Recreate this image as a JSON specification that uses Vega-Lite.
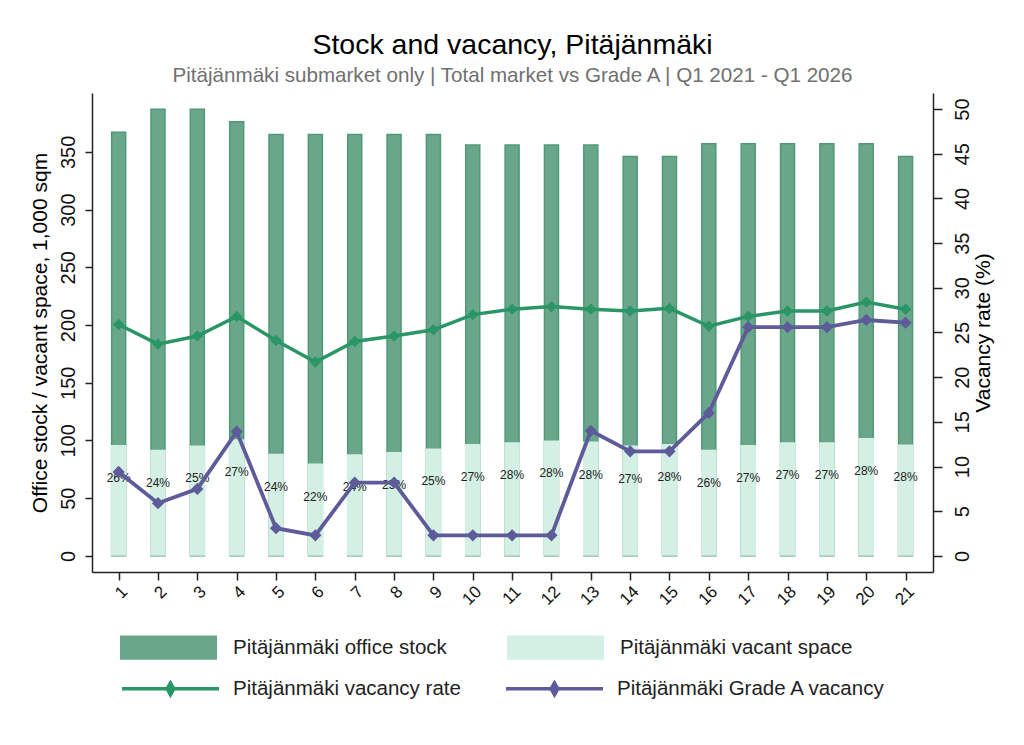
{
  "$schema": "https://vega.github.io/schema/vega-lite/v6.json",
  "width": 841,
  "height": 479,
  "autosize": {"type": "none"},
  "padding": {"left": 92, "top": 93, "right": 91, "bottom": 173},
  "background": "white",
  "title": {
    "text": "Stock and vacancy, Pitäjänmäki",
    "subtitle": "Pitäjänmäki submarket only | Total market vs Grade A | Q1 2021 - Q1 2026",
    "font": "Liberation Sans",
    "fontSize": 28.5,
    "fontWeight": "normal",
    "color": "#000000",
    "subtitleFont": "Liberation Sans",
    "subtitleFontSize": 20.6,
    "subtitleColor": "#707070",
    "subtitlePadding": 7,
    "anchor": "middle",
    "offset": 6
  },
  "data": {
    "values": [
      {"q": 1, "stock": 367, "vacant": 96, "rate": 25.9, "gradeA": 9.4, "label": "26%"},
      {"q": 2, "stock": 387, "vacant": 92, "rate": 23.7, "gradeA": 5.9, "label": "24%"},
      {"q": 3, "stock": 387, "vacant": 95.6, "rate": 24.6, "gradeA": 7.5, "label": "25%"},
      {"q": 4, "stock": 376, "vacant": 101, "rate": 26.8, "gradeA": 13.9, "label": "27%"},
      {"q": 5, "stock": 365, "vacant": 88.4, "rate": 24.1, "gradeA": 3.1, "label": "24%"},
      {"q": 6, "stock": 365, "vacant": 80, "rate": 21.7, "gradeA": 2.3, "label": "22%"},
      {"q": 7, "stock": 365, "vacant": 88, "rate": 24.0, "gradeA": 8.2, "label": "24%"},
      {"q": 8, "stock": 365, "vacant": 90, "rate": 24.6, "gradeA": 8.2, "label": "25%"},
      {"q": 9, "stock": 365, "vacant": 93, "rate": 25.3, "gradeA": 2.3, "label": "25%"},
      {"q": 10, "stock": 356, "vacant": 97, "rate": 27.0, "gradeA": 2.3, "label": "27%"},
      {"q": 11, "stock": 356, "vacant": 98.5, "rate": 27.6, "gradeA": 2.3, "label": "28%"},
      {"q": 12, "stock": 356, "vacant": 100, "rate": 27.9, "gradeA": 2.3, "label": "28%"},
      {"q": 13, "stock": 356, "vacant": 99, "rate": 27.6, "gradeA": 14.0, "label": "28%"},
      {"q": 14, "stock": 346, "vacant": 95.5, "rate": 27.4, "gradeA": 11.7, "label": "27%"},
      {"q": 15, "stock": 346, "vacant": 97, "rate": 27.7, "gradeA": 11.7, "label": "28%"},
      {"q": 16, "stock": 357, "vacant": 92, "rate": 25.7, "gradeA": 16.0, "label": "26%"},
      {"q": 17, "stock": 357, "vacant": 96, "rate": 26.8, "gradeA": 25.6, "label": "27%"},
      {"q": 18, "stock": 357, "vacant": 98.5, "rate": 27.4, "gradeA": 25.6, "label": "27%"},
      {"q": 19, "stock": 357, "vacant": 98.5, "rate": 27.4, "gradeA": 25.6, "label": "27%"},
      {"q": 20, "stock": 357, "vacant": 102, "rate": 28.4, "gradeA": 26.4, "label": "28%"},
      {"q": 21, "stock": 346, "vacant": 96.5, "rate": 27.6, "gradeA": 26.1, "label": "28%"}
    ]
  },
  "encoding": {
    "x": {
      "field": "q",
      "type": "quantitative",
      "scale": {"domain": [0.45, 21.57], "nice": false, "zero": false},
      "axis": {
        "values": [1, 2, 3, 4, 5, 6, 7, 8, 9, 10, 11, 12, 13, 14, 15, 16, 17, 18, 19, 20, 21],
        "title": null,
        "labelAngle": -45,
        "labelFontSize": 17,
        "tickSize": 8,
        "labelPadding": 3
      }
    }
  },
  "layer": [
    {
      "encoding": {
        "y": {
          "type": "quantitative",
          "scale": {"domain": [-14, 401], "nice": false, "zero": false},
          "axis": {
            "orient": "left",
            "values": [0, 50, 100, 150, 200, 250, 300, 350],
            "title": "Office stock / vacant space, 1,000 sqm",
            "labelAngle": -90,
            "labelFontSize": 20,
            "labelPadding": 7,
            "tickSize": 7,
            "titleFontSize": 21,
            "titlePadding": 8
          }
        }
      },
      "layer": [
        {
          "mark": {"type": "bar", "size": 14, "stroke": "#4e9a77", "strokeWidth": 1.5, "opacity": 1},
          "encoding": {
            "y": {"field": "stock", "type": "quantitative"},
            "fill": {
              "datum": "Pitäjänmäki office stock",
              "scale": {
                "domain": ["Pitäjänmäki office stock", "Pitäjänmäki vacant space"],
                "range": ["#6aa78a", "#d4efe4"]
              },
              "legend": {
                "orient": "none",
                "legendX": 28,
                "legendY": 506,
                "direction": "horizontal",
                "title": null,
                "labelFont": "Liberation Sans",
                "labelFontSize": 20.5,
                "labelColor": "#222222",
                "labelLimit": 400,
                "labelOffset": 16,
                "symbolType": "M-1,-0.25H1V0.25H-1Z",
                "symbolSize": 9409,
                "symbolStrokeWidth": 0,
                "symbolOpacity": 1,
                "columnPadding": 60
              }
            }
          }
        },
        {
          "mark": {"type": "bar", "size": 15.6, "opacity": 1},
          "encoding": {
            "y": {"field": "vacant", "type": "quantitative"},
            "fill": {"datum": "Pitäjänmäki vacant space"}
          }
        },
        {
          "mark": {"type": "text", "font": "Liberation Sans", "fontSize": 12, "color": "#222222", "dy": 33},
          "encoding": {
            "y": {"field": "vacant", "type": "quantitative"},
            "text": {"field": "label"}
          }
        }
      ]
    },
    {
      "encoding": {
        "y": {
          "type": "quantitative",
          "scale": {"domain": [-1.8, 51.8], "nice": false, "zero": false},
          "axis": {
            "orient": "right",
            "values": [0, 5, 10, 15, 20, 25, 30, 35, 40, 45, 50],
            "title": "Vacancy rate (%)",
            "labelAngle": -90,
            "labelFontSize": 20,
            "labelPadding": 10,
            "tickSize": 9,
            "titleFontSize": 21,
            "titleAngle": -90,
            "titleBaseline": "top",
            "titlePadding": 0
          }
        }
      },
      "layer": [
        {
          "mark": {"type": "line", "strokeWidth": 3.5},
          "encoding": {
            "y": {"field": "rate", "type": "quantitative"},
            "stroke": {
              "datum": "Pitäjänmäki vacancy rate",
              "scale": {
                "domain": ["Pitäjänmäki vacancy rate", "Pitäjänmäki Grade A vacancy"],
                "range": ["#2a9565", "#5e5b9a"]
              },
              "legend": {
                "orient": "none",
                "legendX": 28,
                "legendY": 545,
                "direction": "horizontal",
                "title": null,
                "labelFont": "Liberation Sans",
                "labelFontSize": 20.5,
                "labelColor": "#222222",
                "labelLimit": 400,
                "labelOffset": 12,
                "symbolType": "M-1,0H1 M0,-0.12L0.07,0L0,0.12L-0.07,0Z M0,-0.05L0.03,0L0,0.05L-0.03,0Z",
                "symbolSize": 9409,
                "symbolStrokeWidth": 3.5,
                "symbolOpacity": 1,
                "columnPadding": 38
              }
            }
          }
        },
        {
          "mark": {"type": "point", "shape": "diamond", "filled": true, "size": 130, "opacity": 1, "color": "#2a9565"},
          "encoding": {
            "y": {"field": "rate", "type": "quantitative"}
          }
        },
        {
          "mark": {"type": "line", "strokeWidth": 3.8},
          "encoding": {
            "y": {"field": "gradeA", "type": "quantitative"},
            "stroke": {"datum": "Pitäjänmäki Grade A vacancy"}
          }
        },
        {
          "mark": {"type": "point", "shape": "diamond", "filled": true, "size": 150, "opacity": 1, "color": "#5e5b9a"},
          "encoding": {
            "y": {"field": "gradeA", "type": "quantitative"}
          }
        }
      ]
    }
  ],
  "resolve": {"scale": {"y": "independent"}},
  "config": {
    "font": "Liberation Sans",
    "view": {"stroke": null},
    "axis": {
      "grid": false,
      "domainColor": "#222222",
      "domainWidth": 1.5,
      "tickColor": "#222222",
      "tickWidth": 1.5,
      "labelColor": "#111111",
      "titleColor": "#000000",
      "labelFont": "Liberation Sans",
      "titleFont": "Liberation Sans",
      "titleFontWeight": "normal",
      "labelOverlap": false
    }
  }
}
